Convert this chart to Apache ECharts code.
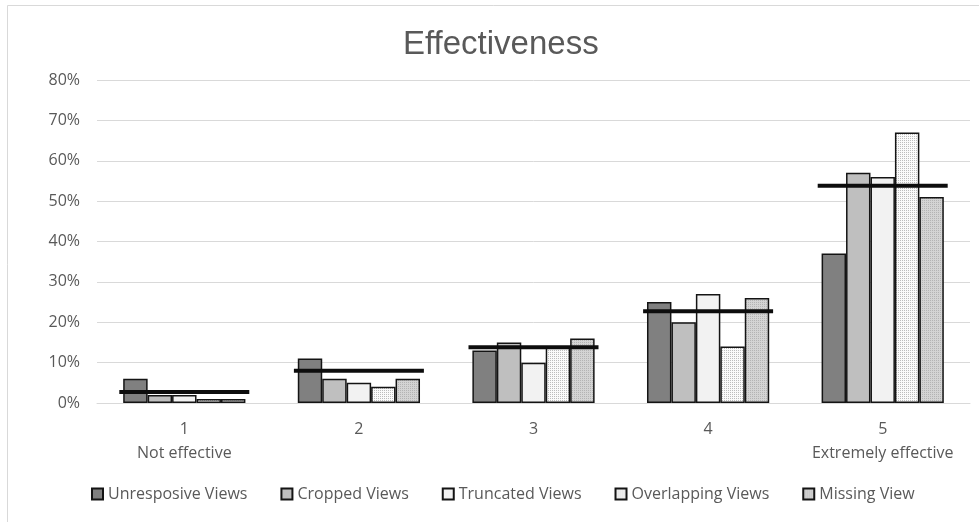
<!DOCTYPE html>
<html>
<head>
<meta charset="utf-8">
<script src="https://cdn.jsdelivr.net/npm/echarts@6/dist/echarts.min.js"></script>
<style>
  html, body { margin: 0; padding: 0; background: #fff; }
  #chart { width: 979px; height: 522px; }
</style>
</head>
<body>
<div id="chart"></div>
<script>
// Survey ratings: share of answers per effectiveness level, per view issue
const categories = ['1\nNot effective', '2', '3', '4', '5\nExtremely effective'];
const unresponsive = [6, 11, 13, 25, 37];
const cropped      = [2, 6, 15, 20, 57];
const truncated    = [2, 5, 10, 27, 56];
const overlapping  = [1, 4, 14, 14, 67];
const missing      = [1, 6, 16, 26, 51];
// reference level per rating (thick horizontal marker)
const reference    = [2.7, 8, 13.8, 22.7, 53.8];
const yTicks = [0, 10, 20, 30, 40, 50, 60, 70, 80];

const FONT = '"Open Sans", "Liberation Sans", sans-serif';
const TEXT = '#595959';

// small repeating dotted fills for the textured bars
function makeDots(base, dot, step) {
  const c = document.createElement('canvas');
  c.width = step * 2; c.height = step * 2;
  const g = c.getContext('2d');
  g.fillStyle = base; g.fillRect(0, 0, c.width, c.height);
  g.fillStyle = dot;
  for (let y = 0; y < c.height; y += step) {
    for (let x = 0; x < c.width; x += step) g.fillRect(x, y, 1, 1);
  }
  return { image: c, repeat: 'repeat' };
}
const overlapFill = makeDots('#fbfbfb', '#bdbdbd', 2);
const missingFill = makeDots('#d4d4d4', '#b4b4b4', 2);

function barSeries(name, data, fill) {
  return {
    name: name,
    type: 'bar',
    data: data,
    barGap: '0%',
    barCategoryGap: '30%',
    itemStyle: { color: fill, borderColor: '#141414', borderWidth: 1.5 },
    z: 2
  };
}

const chart = echarts.init(document.getElementById('chart'), null, { renderer: 'canvas' });
chart.setOption({
  animation: false,
  backgroundColor: '#ffffff',
  graphic: [{
    type: 'rect',
    shape: { x: 7.5, y: 5.5, width: 1100, height: 700 },
    style: { fill: 'none', stroke: '#d9d9d9', lineWidth: 1 },
    silent: true,
    z: -10
  }],
  title: {
    text: 'Effectiveness',
    left: 398,
    top: 23,
    textStyle: { fontFamily: '"Liberation Sans", Arial, sans-serif', fontSize: 33, fontWeight: 'normal', color: TEXT }
  },
  grid: { left: 97, right: 9, top: 80, bottom: 119 },
  legend: {
    data: ['Unresposive Views', 'Cropped Views', 'Truncated Views', 'Overlapping Views', 'Missing View'],
    bottom: 15,
    left: 86,
    icon: 'rect',
    itemWidth: 11,
    itemHeight: 11,
    itemGap: 33,
    textStyle: { fontFamily: FONT, fontSize: 16, color: TEXT, padding: [0, 0, 0, 0] }
  },
  xAxis: {
    type: 'category',
    data: categories,
    axisLine: { lineStyle: { color: '#d9d9d9', width: 1 } },
    axisTick: { show: false },
    axisLabel: { interval: 0, hideOverlap: false, fontFamily: FONT, fontSize: 16, color: TEXT, lineHeight: 24, margin: 14 }
  },
  yAxis: {
    type: 'value',
    min: yTicks[0],
    max: yTicks[yTicks.length - 1],
    interval: 10,
    axisLine: { show: false },
    axisTick: { show: false },
    splitLine: { lineStyle: { color: '#d9d9d9', width: 1 } },
    axisLabel: { fontFamily: FONT, fontSize: 16, color: TEXT, margin: 17, formatter: v => v + '%' }
  },
  series: [
    barSeries('Unresposive Views', unresponsive, '#808080'),
    barSeries('Cropped Views', cropped, '#bfbfbf'),
    barSeries('Truncated Views', truncated, '#f2f2f2'),
    barSeries('Overlapping Views', overlapping, overlapFill),
    barSeries('Missing View', missing, missingFill),
    {
      name: 'Reference',
      type: 'scatter',
      data: reference,
      symbol: 'rect',
      symbolSize: [130, 4],
      itemStyle: { color: '#0d0d0d', opacity: 1 },
      z: 5
    }
  ]
});
</script>
</body>
</html>
